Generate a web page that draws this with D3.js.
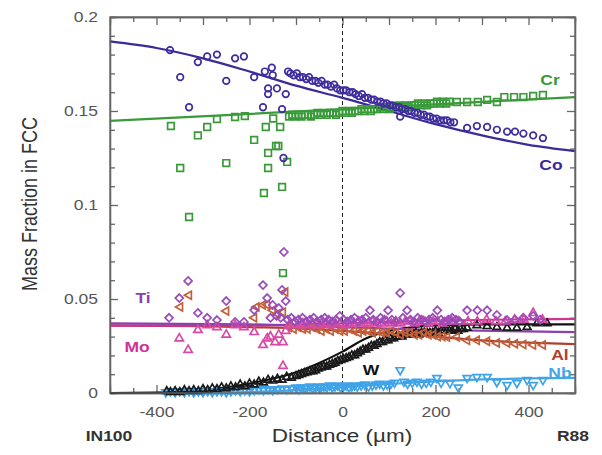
<!DOCTYPE html>
<html>
<head>
<meta charset="utf-8">
<script src="https://cdn.jsdelivr.net/npm/d3@7"></script>
<style>
  body { margin: 0; background: #fff; }
  text { font-family: "Liberation Sans", Arial, sans-serif; }
</style>
</head>
<body>
<div id="chart"></div>
<script>
// axis settings
const xTicksMajor = [-500, -400, -300, -200, -100, 0, 100, 200, 300, 400, 500];
const xTicksMinor = [-450, -350, -250, -150, -50, 50, 150, 250, 350, 450];
const xLabels = [-400, -200, 0, 200, 400];
const yTicksMajor = [0, 0.05, 0.1, 0.15, 0.2];
const yTicksMinor = [0.01, 0.02, 0.03, 0.04, 0.06, 0.07, 0.08, 0.09, 0.11, 0.12, 0.13, 0.14, 0.16, 0.17, 0.18, 0.19];

// simulated profiles [distance, mass fraction]
const coLine = [[-500,0.187],[-400,0.1835],[-300,0.178],[-200,0.171],[-100,0.1635],[0,0.157],[100,0.150],[200,0.143],[300,0.137],[400,0.132],[500,0.1287]];
const crLine = [[-500,0.1447],[-250,0.1478],[0,0.151],[250,0.1542],[500,0.1574]];
const tiLine = [[-500,0.037],[-200,0.0365],[0,0.035],[200,0.0335],[500,0.0324]];
const moLine = [[-500,0.0358],[-200,0.036],[0,0.037],[200,0.0385],[500,0.0394]];
const alLine = [[-500,0.0358],[-300,0.0355],[-200,0.035],[-100,0.0345],[0,0.033],[100,0.0315],[200,0.030],[300,0.028],[400,0.0268],[500,0.026]];
const wLine = [[-500,0],[-400,0.0002],[-300,0.0015],[-200,0.005],[-100,0.011],[-50,0.016],[0,0.022],[50,0.029],[100,0.033],[150,0.035],[200,0.036],[300,0.0365],[500,0.0365]];
const nbLine = [[-500,0],[-300,0.0001],[-200,0.0005],[-100,0.0015],[0,0.003],[100,0.0048],[200,0.0062],[300,0.0072],[400,0.0078],[500,0.008]];

// measured points [distance, mass fraction]
const coPts = [[-371,0.1824],[-349,0.168],[-330,0.152],[-311,0.176],[-291,0.179],[-270,0.180],[-250,0.166],[-231,0.178],[-212,0.179],[-190,0.168],[-171,0.152],[-167,0.171],[-160,0.162],[-160,0.159],[-152,0.173],[-150,0.169],[-141,0.162],[-130,0.151],[-127,0.125],[-122,0.159],[-117,0.171],
  [-112,0.170],[-105,0.169],[-98,0.170],[-92,0.168],[-85,0.168],[-78,0.167],[-72,0.168],[-65,0.166],[-58,0.166],[-52,0.165],[-45,0.166],[-38,0.164],[-32,0.164],[-25,0.163],[-18,0.164],[-12,0.162],[-5,0.161],[2,0.161],[8,0.161],[15,0.160],[22,0.160],[28,0.159],[35,0.158],[42,0.159],[48,0.157],
  [55,0.157],[62,0.156],[68,0.156],[75,0.155],[82,0.155],[88,0.154],[95,0.154],[102,0.153],[108,0.153],[115,0.152],[122,0.152],[124,0.147],[128,0.151],[135,0.151],[142,0.150],[148,0.150],[155,0.149],[162,0.149],[168,0.148],[175,0.148],[182,0.147],[188,0.147],[195,0.146],[202,0.146],[210,0.145],[218,0.145],[225,0.145],[232,0.144],[240,0.144],
  [268,0.141],[289,0.142],[311,0.1415],[332,0.140],[354,0.139],[371,0.139],[389,0.138],[410,0.137],[431,0.1356]];
const crPts = [[-369,0.142],[-349,0.1197],[-330,0.0936],[-311,0.137],[-291,0.1415],[-270,0.1457],[-250,0.1223],[-231,0.1468],[-210,0.1473],[-190,0.1346],[-169,0.1064],[-165,0.1415],[-160,0.1277],[-160,0.1197],[-149,0.146],[-143,0.1314],[-138,0.1314],[-134,0.1415],[-130,0.1096],[-128,0.0638],[-119,0.1229],
  [-115,0.147],[-108,0.148],[-101,0.147],[-95,0.148],[-88,0.147],[-81,0.148],[-74,0.148],[-68,0.147],[-61,0.148],[-54,0.149],[-47,0.148],[-41,0.149],[-34,0.148],[-27,0.149],[-20,0.149],[-14,0.148],[-7,0.149],[0,0.150],[7,0.149],[14,0.150],[20,0.149],[27,0.150],[34,0.150],[41,0.151],[47,0.150],[54,0.151],[61,0.150],[68,0.151],[74,0.151],[81,0.152],[88,0.151],[95,0.152],[101,0.151],[108,0.152],[115,0.152],[122,0.153],[128,0.152],[135,0.153],[142,0.152],[149,0.153],[155,0.153],[162,0.154],[169,0.153],[176,0.154],[182,0.153],[189,0.154],[196,0.154],[203,0.155],[210,0.154],[216,0.155],[223,0.154],[230,0.155],
  [246,0.1548],[268,0.1548],[291,0.1548],[311,0.1559],[332,0.1548],[348,0.1574],[369,0.1574],[389,0.1574],[410,0.158],[431,0.1585]];
const tiPts = [[-373,0.040],[-351,0.0505],[-332,0.0596],[-311,0.0426],[-291,0.040],[-270,0.0388],[-250,0.0489],[-231,0.0378],[-212,0.0378],[-190,0.0441],[-171,0.0574],[-162,0.0505],[-155,0.040],[-150,0.0468],[-142,0.041],[-137,0.0452],[-133,0.040],[-130,0.0548],[-126,0.075],[-122,0.0489],
  [-118,0.039],[-110,0.040],[-102,0.038],[-95,0.039],[-86,0.040],[-78,0.038],[-70,0.039],[-62,0.040],[-55,0.038],[-46,0.039],[-38,0.040],[-30,0.039],[-22,0.038],[-14,0.039],[-6,0.041],[2,0.039],[10,0.038],[18,0.039],[26,0.040],[34,0.038],[42,0.039],[50,0.040],[59,0.044],[66,0.039],[74,0.038],[82,0.040],[90,0.039],[98,0.044],[106,0.039],[114,0.038],[124,0.0532],[130,0.040],[139,0.044],[146,0.039],[154,0.038],[162,0.040],[170,0.039],[178,0.038],[186,0.039],[194,0.040],[204,0.044],[212,0.039],[220,0.038],[228,0.039],[236,0.040],[244,0.039],[252,0.038],
  [268,0.044],[290,0.044],[311,0.044],[332,0.0415],[354,0.0388],[371,0.039],[389,0.040],[410,0.041],[425,0.039]];
const moPts = [[-351,0.029],[-332,0.0229],[-311,0.0335],[-291,0.036],[-270,0.035],[-250,0.031],[-231,0.036],[-212,0.035],[-190,0.0324],[-171,0.0255],[-162,0.029],[-155,0.030],[-145,0.027],[-137,0.031],[-128,0.0144],[-128,0.027],[-122,0.033],
  [-115,0.036],[-105,0.037],[-95,0.036],[-85,0.037],[-75,0.036],[-65,0.037],[-55,0.036],[-45,0.037],[-35,0.037],[-25,0.036],[-15,0.037],[-5,0.037],[5,0.036],[15,0.037],[25,0.037],[35,0.038],[45,0.037],[55,0.037],[65,0.038],[75,0.037],[85,0.037],[95,0.038],[105,0.037],[115,0.038],[125,0.037],[135,0.038],[145,0.038],[155,0.037],[165,0.038],[175,0.038],[185,0.037],[195,0.038],[205,0.038],[215,0.037],[225,0.038],[235,0.038],
  [250,0.038],[270,0.038],[290,0.038],[310,0.039],[330,0.038],[350,0.038],[370,0.039],[390,0.039],[410,0.0425],[430,0.039]];
const alPts = [[-349,0.0458],[-330,0.052],[-250,0.0436],[-190,0.040],[-185,0.0457],[-171,0.0468],[-162,0.047],[-150,0.044],[-140,0.042],[-128,0.043],[-123,0.0537],
  [-115,0.035],[-105,0.034],[-95,0.035],[-85,0.034],[-75,0.034],[-65,0.035],[-55,0.034],[-45,0.033],[-35,0.034],[-25,0.033],[-15,0.034],[-5,0.033],[5,0.033],[15,0.034],[25,0.033],[35,0.032],[45,0.033],[55,0.033],[65,0.032],[75,0.033],[85,0.032],[95,0.032],[105,0.033],[115,0.032],[125,0.031],[135,0.032],[145,0.032],[155,0.031],[165,0.031],[175,0.032],[185,0.031],[195,0.031],[205,0.030],[215,0.030],
  [225,0.0298],[246,0.0298],[268,0.028],[289,0.028],[311,0.0275],[332,0.0266],[354,0.0266],[371,0.0262],[389,0.0258],[410,0.0255],[431,0.0255]];
const wPts = [[-378,0.001],[-370,0.0005],[-360,0.001],[-350,0.0005],[-340,0.0015],[-330,0.001],[-320,0.0015],[-310,0.001],[-300,0.002],[-290,0.0015],[-280,0.0025],[-270,0.002],[-260,0.003],[-250,0.0025],[-240,0.0035],[-230,0.003],[-220,0.0045],[-210,0.0035],[-200,0.005],[-190,0.0045],[-180,0.006],[-170,0.0055],[-160,0.007],[-150,0.0065],[-140,0.0075],[-130,0.007],[-120,0.0085],[-110,0.008],
  [-100,0.009],[-94,0.0095],[-88,0.010],[-82,0.0105],[-76,0.011],[-70,0.0115],[-64,0.0115],[-58,0.012],[-52,0.013],[-46,0.0135],[-40,0.014],[-34,0.014],[-28,0.015],[-22,0.0155],[-16,0.016],[-10,0.017],[-4,0.0175],[2,0.018],[8,0.0185],[14,0.019],[20,0.020],[26,0.020],[32,0.021],[38,0.022],[44,0.023],[50,0.023],[56,0.024],[62,0.025],[68,0.025],[74,0.026],[80,0.027],[86,0.027],[92,0.028],[98,0.028],[104,0.029],[110,0.029],[116,0.030],[122,0.030],[128,0.030],[134,0.031],[140,0.031],[146,0.031],[152,0.031],[158,0.032],[164,0.031],[170,0.032],[176,0.032],[182,0.032],[188,0.032],[194,0.032],[200,0.033],[206,0.032],[212,0.033],[218,0.033],[224,0.033],[230,0.033],[236,0.033],[242,0.034],[248,0.033],[254,0.034],[260,0.034],
  [268,0.0346],[289,0.036],[311,0.0355],[332,0.035],[354,0.0346],[375,0.0346],[397,0.035],[418,0.037],[440,0.037]];
const nbPts = [[-380,0.0005],[-370,0.001],[-360,0.0005],[-350,0.001],[-340,0.0005],[-330,0.001],[-320,0.0005],[-310,0.001],[-300,0.0005],[-290,0.001],[-280,0.0005],[-270,0.001],[-260,0.001],[-250,0.0005],[-240,0.001],[-230,0.0015],[-220,0.001],[-210,0.0015],[-200,0.001],[-190,0.0015],[-180,0.002],[-170,0.0015],[-160,0.002],[-150,0.0015],[-140,0.002],[-130,0.0025],[-120,0.002],[-110,0.0025],
  [-100,0.003],[-94,0.002],[-88,0.003],[-82,0.0025],[-76,0.003],[-70,0.0035],[-64,0.0025],[-58,0.003],[-52,0.0035],[-46,0.003],[-40,0.0035],[-34,0.003],[-28,0.004],[-22,0.003],[-16,0.0035],[-10,0.004],[-4,0.003],[2,0.0035],[8,0.004],[14,0.003],[20,0.0035],[26,0.004],[32,0.0035],[40,0.004],[48,0.0045],[56,0.0035],[64,0.004],[72,0.0045],[80,0.005],[88,0.004],[96,0.0045],[104,0.005],[112,0.0055],[124,0.0122],[132,0.006],[140,0.005],[150,0.0055],[160,0.006],[170,0.005],[180,0.0055],[190,0.006],[203,0.008],[212,0.0055],[231,0.0053],[249,0.003],
  [268,0.008],[289,0.0085],[311,0.0085],[332,0.0058],[354,0.0043],[375,0.0053],[397,0.0069],[410,0.0043],[431,0.0069]];

const W = 602, H = 455;
const margin = {top: 17, right: 27, bottom: 62, left: 110};
const width = W - margin.left - margin.right;
const height = H - margin.top - margin.bottom;
const SX = 1.25; // the reference text is stretched sideways

const svg = d3.select('#chart').append('svg')
  .attr('width', W)
  .attr('height', H);
const g = svg.append('g')
  .attr('transform', 'translate(' + margin.left + ',' + margin.top + ')');

const x = d3.scaleLinear().domain([-500, 500]).range([0, width]);
const y = d3.scaleLinear().domain([0, 0.2]).range([height, 0]);

// axes, ticks pointing inward on all four sides
const axisColor = '#666';
const styleAxis = (sel) => {
  sel.selectAll('path, line').attr('stroke', axisColor).attr('stroke-width', 1.3);
  sel.selectAll('text').attr('fill', '#555').style('font-size', '14px');
};

const addAxis = (axis, tr) => {
  const a = g.append('g').attr('transform', tr || '').call(axis);
  styleAxis(a);
  return a;
};

addAxis(d3.axisBottom(x).tickValues(xTicksMinor).tickSize(-5).tickFormat(''), 'translate(0,' + height + ')');
addAxis(d3.axisTop(x).tickValues(xTicksMinor).tickSize(-5).tickFormat(''));
addAxis(d3.axisLeft(y).tickValues(yTicksMinor).tickSize(-5).tickFormat(''));
addAxis(d3.axisRight(y).tickValues(yTicksMinor).tickSize(-5).tickFormat(''), 'translate(' + width + ',0)');
addAxis(d3.axisTop(x).tickValues(xTicksMajor).tickSizeInner(-8).tickSizeOuter(0).tickFormat(''));
addAxis(d3.axisRight(y).tickValues(yTicksMajor).tickSizeInner(-8).tickSizeOuter(0).tickFormat(''), 'translate(' + width + ',0)');

const xAxis = addAxis(d3.axisBottom(x).tickValues(xTicksMajor).tickSizeInner(-8).tickSizeOuter(0)
  .tickFormat(d => xLabels.includes(d) ? d : ''), 'translate(0,' + height + ')');
xAxis.selectAll('text').attr('y', 14).attr('dy', '0.71em').attr('transform', 'scale(' + SX + ',1)');

const yAxis = addAxis(d3.axisLeft(y).tickValues(yTicksMajor).tickSizeInner(-8).tickSizeOuter(0)
  .tickFormat(d => d === 0 ? '0' : d3.format('')(d)));
yAxis.selectAll('text').attr('x', -12 / SX).attr('transform', 'scale(' + SX + ',1)');

// dashed interface line
g.append('line')
  .attr('x1', x(0)).attr('x2', x(0))
  .attr('y1', 0).attr('y2', height)
  .attr('stroke', '#222')
  .attr('stroke-width', 1)
  .attr('stroke-dasharray', '4,3');

const line = d3.line()
  .x(d => x(d[0]))
  .y(d => y(d[1]))
  .curve(d3.curveMonotoneX);

const diamond = {
  draw: function(context, size) {
    const r = Math.sqrt(size) / 2 * Math.SQRT2;
    context.moveTo(0, -r);
    context.lineTo(r, 0);
    context.lineTo(0, r);
    context.lineTo(-r, 0);
    context.closePath();
  }
};

const series = [
  {name: 'Nb', pts: nbPts, prof: nbLine, color: '#45a6e6', mark: '#3fa3e8', type: d3.symbolTriangle, size: 28, rot: 180},
  {name: 'W',  pts: wPts,  prof: wLine,  color: '#111', mark: '#1a1a1a', type: d3.symbolTriangle, size: 26, rot: 0},
  {name: 'Al', pts: alPts, prof: alLine, color: '#b0402c', mark: '#c2603a', type: d3.symbolTriangle, size: 28, rot: -90},
  {name: 'Mo', pts: moPts, prof: moLine, color: '#d1338f', mark: '#d94aa6', type: d3.symbolTriangle, size: 30, rot: 0},
  {name: 'Ti', pts: tiPts, prof: tiLine, color: '#8c3fae', mark: '#9a4cb8', type: diamond, size: 32, rot: 0},
  {name: 'Cr', pts: crPts, prof: crLine, color: '#3a9a3a', mark: '#3a9a3a', type: d3.symbolSquare, size: 44, rot: 0},
  {name: 'Co', pts: coPts, prof: coLine, color: '#3b2a98', mark: '#3f2d9e', type: d3.symbolCircle, size: 34, rot: 0}
];

const plot = g.append('g');

// profiles first, measured points on top
series.forEach(s => {
  plot.append('path')
    .datum(s.prof)
    .attr('fill', 'none')
    .attr('stroke', s.color)
    .attr('stroke-width', 2.2)
    .attr('d', line);
});

series.forEach(s => {
  const sym = d3.symbol().type(s.type).size(s.size);
  plot.append('g').selectAll('path')
    .data(s.pts)
    .join('path')
    .attr('transform', d => 'translate(' + x(d[0]) + ',' + y(d[1]) + ') rotate(' + s.rot + ')')
    .attr('d', sym)
    .attr('fill', 'none')
    .attr('stroke', s.mark)
    .attr('stroke-width', 1.7);
});

// frame
g.append('rect')
  .attr('width', width).attr('height', height)
  .attr('fill', 'none')
  .attr('stroke', axisColor)
  .attr('stroke-width', 1.3);

// text helper, stretched sideways like the reference
const label = (txt, px, py, opts) => {
  const o = opts || {};
  svg.append('g')
    .attr('transform', 'translate(' + px + ',' + py + ') scale(' + SX + ',1)' + (o.rotate ? ' rotate(' + o.rotate + ')' : ''))
    .append('text')
    .attr('text-anchor', 'middle')
    .attr('fill', o.color || '#333')
    .style('font-size', (o.size || 14) + 'px')
    .style('font-weight', o.bold ? 'bold' : 'normal')
    .text(txt);
};

label('Mass Fraction in FCC', 37, 204, {rotate: -90, size: 18});
label('Distance (\u00b5m)', 342, 442, {size: 18});
label('IN100', 109, 441, {bold: true, size: 14});
label('R88', 573, 441, {bold: true, size: 14});

label('Cr', 550, 85, {bold: true, color: '#3a9a3a'});
label('Co', 551, 170, {bold: true, color: '#3b2a98'});
label('Ti', 143, 303, {bold: true, color: '#8c3fae'});
label('Mo', 137, 352, {bold: true, color: '#cc3399'});
label('Al', 560, 360, {bold: true, color: '#b0402c'});
label('W', 371, 375, {bold: true, color: '#111'});
label('Nb', 560, 378, {bold: true, color: '#45a6e6'});
</script>
</body>
</html>
